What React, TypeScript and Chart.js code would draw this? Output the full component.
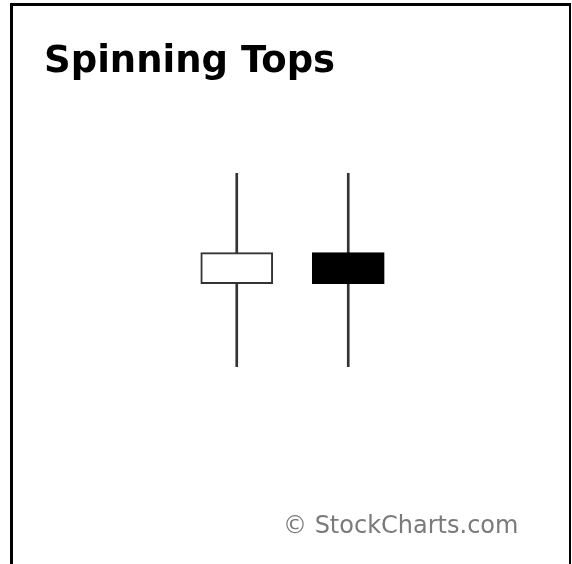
import React, { useEffect, useRef } from "react";
import { Chart, registerables } from "chart.js";

Chart.register(...registerables);

// Data
const categories = ["White Spinning Top", "Black Spinning Top"];
const highs = [20, 20];
const lows = [10, 10];
const opens = [14.3, 15.9];
const closes = [15.9, 14.3];
const titleText = "Spinning Tops";
const watermarkText = "© StockCharts.com";

const textPlugin = {
  id: "textOverlay",
  afterDraw(chart: any) {
    const ctx = chart.ctx;
    ctx.save();
    ctx.textBaseline = "alphabetic";
    ctx.textAlign = "left";
    ctx.fillStyle = "#000000";
    ctx.font = "bold 37px 'DejaVu Sans'";
    ctx.fillText(titleText, 44, 72);
    ctx.fillStyle = "#7a7a7a";
    ctx.font = "24px 'DejaVu Sans'";
    ctx.fillText(watermarkText, 283, 533);
    ctx.restore();
  },
};

export default function App() {
  const canvasRef = useRef<HTMLCanvasElement | null>(null);

  useEffect(() => {
    if (!canvasRef.current) return;
    const wickData = categories.map((_, i) => [lows[i], highs[i]]);
    const bodyData = categories.map((_, i) => [opens[i], closes[i]]);
    const bodyFill = categories.map((_, i) => (closes[i] >= opens[i] ? "#ffffff" : "#000000"));
    const bodyBorder = categories.map((_, i) => (closes[i] >= opens[i] ? "#333333" : "#000000"));

    const chart = new Chart(canvasRef.current, {
      type: "bar",
      data: {
        labels: categories,
        datasets: [
          {
            label: "Wick",
            data: wickData as any,
            backgroundColor: "#333333",
            borderWidth: 0,
            barThickness: 2,
            grouped: false,
            order: 2,
          },
          {
            label: "Body",
            data: bodyData as any,
            backgroundColor: bodyFill,
            borderColor: bodyBorder,
            borderWidth: 2,
            borderSkipped: false,
            barThickness: 72,
            grouped: false,
            order: 1,
          },
        ],
      },
      options: {
        animation: false,
        responsive: false,
        maintainAspectRatio: false,
        layout: { padding: { left: 181, right: 168, top: 18.6, bottom: 3.9 } },
        plugins: {
          legend: { display: false },
          title: { display: false },
          tooltip: { enabled: false },
        },
        scales: {
          x: { type: "category", display: false, offset: true },
          y: { type: "linear", display: false, min: 0, max: 28 },
        },
      },
      plugins: [textPlugin],
    });
    return () => chart.destroy();
  }, []);

  return (
    <div style={{ position: "absolute", left: 0, top: 0, width: 572, height: 564, overflow: "hidden", background: "#ffffff" }}>
      <div
        style={{
          position: "absolute",
          left: 10,
          top: 3,
          width: 556,
          height: 620,
          borderTop: "3px solid #000",
          borderLeft: "3px solid #000",
          borderRight: "2px solid #000",
        }}
      />
      <canvas
        ref={canvasRef}
        width={572}
        height={564}
        style={{ position: "absolute", left: 0, top: 0, width: 572, height: 564 }}
      />
    </div>
  );
}
